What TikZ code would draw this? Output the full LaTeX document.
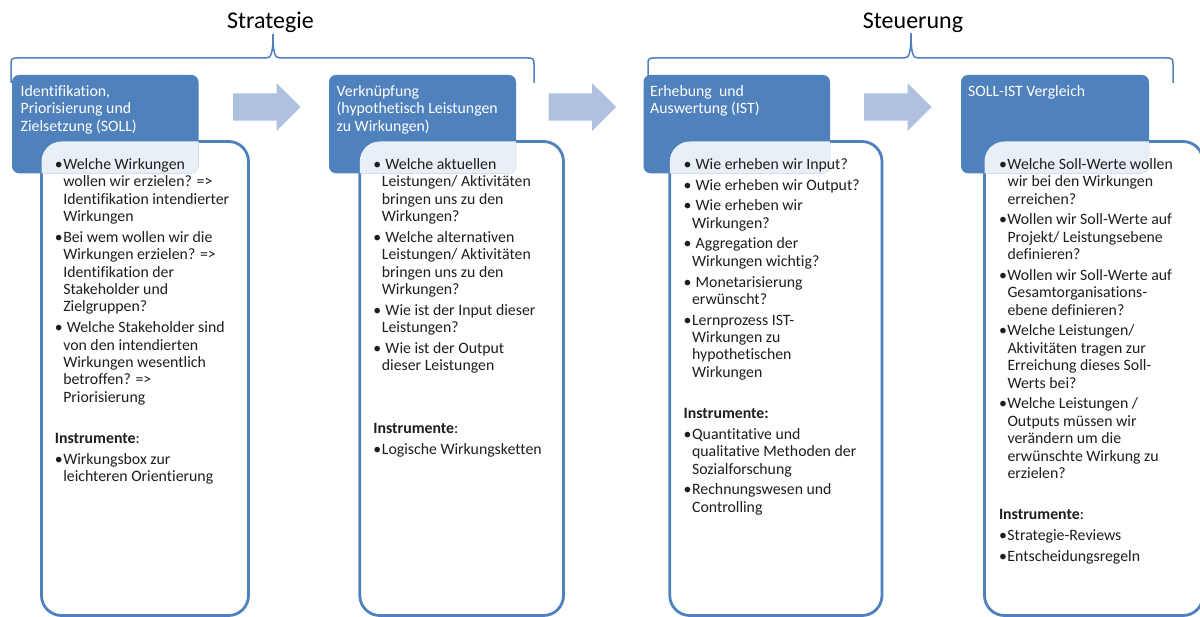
\documentclass[tikz,border=0pt]{standalone}
\usepackage{fontspec}
\setmainfont{Carlito}[Ligatures=NoCommon]
\definecolor{hdrblue}{HTML}{4F81BD}
\definecolor{arrowblue}{HTML}{AEC1DE}
\definecolor{bodyink}{HTML}{1E1E1E}

% hanging bullet paragraph
\newlength\bulhang
\setlength\bulhang{8.5pt}
\newcommand\bitem[1]{\par\hangindent=\bulhang\hangafter=1\noindent\makebox[\bulhang][l]{•}#1\par}
\newcommand\instr[2]{\par\vspace{#1}\noindent\textbf{Instrumente}#2\par}
\newcommand\colbox[1]{\parbox[t]{240pt}{\setlength\parskip{3.3pt}\setlength\parindent{0pt}\hyphenpenalty=10000 #1}}
\newcommand\hdrbox[1]{\parbox[t]{180pt}{\setlength\parindent{0pt}#1}}

\begin{document}
\begin{tikzpicture}[x=1pt,y=-1pt,
  grouping/.style={draw=hdrblue, line width=1.5pt},
  header/.style={fill=hdrblue, rounded corners=7pt},
  bodyframe/.style={draw=hdrblue, line width=2.8pt, fill=white, rounded corners=20pt},
  blockarrow/.style={fill=arrowblue},
  title/.style={anchor=base, inner sep=0pt, font=\fontsize{24}{28}\selectfont, text=black},
  hdrtext/.style={anchor=base west, inner sep=0pt, text=white, font=\fontsize{15.8}{17.5}\selectfont},
  coltext/.style={anchor=base west, inner sep=0pt, text=bodyink, font=\fontsize{15.8}{17.4}\selectfont}]

\clip (0,0) rectangle (1200,617);
\fill[white] (0,0) rectangle (1200,617);

% curly brackets grouping the phases
\draw[grouping] (11,83) -- (11,64) .. controls (11,59) and (12,58) .. (17,58)
  -- (266,58) .. controls (271,58) and (273,54) .. (273,34)
  .. controls (273,54) and (275,58) .. (280,58)
  -- (528,58) .. controls (533,58) and (534,59) .. (534,64) -- (534,83);
\draw[grouping] (648,83) -- (648,64) .. controls (648,59) and (649,58) .. (654,58)
  -- (904,58) .. controls (909,58) and (911,54) .. (911,33)
  .. controls (911,54) and (913,58) .. (918,58)
  -- (1167,58) .. controls (1172,58) and (1173,59) .. (1173,64) -- (1173,83);

\node[title] (tstrat) at (270.5,29) {Strategie};
\node[title] (tsteu) at (913,29) {Steuerung};

% block arrows between the phases
\foreach \dx in {0,315.5,631} {
  \fill[blockarrow] (233+\dx,93.3) -- (276.7+\dx,93.3) -- (276.7+\dx,83.3)
    -- (300.7+\dx,107) -- (276.7+\dx,131) -- (276.7+\dx,120.7) -- (233+\dx,120.7) -- cycle;
}

% phase boxes: framed body, blue header, tinted overlap
\foreach \hl/\hr/\bl/\br in {12/198.5/41.5/248.5, 329/516/359.8/563.5, 643.5/830/669.8/882, 961/1149/984.5/1203} {
  \path[bodyframe] (\bl,141.5) rectangle (\br,615.5);
  \path[header] (\hl,75) rectangle (\hr,173.3);
  \begin{scope}
    \clip[rounded corners=7pt] (\hl,75) rectangle (\hr,173.3);
    \fill[white, opacity=0.88, rounded corners=20pt] (\bl,141.5) rectangle (\br,615.5);
  \end{scope}
}

% header texts
\node[hdrtext] (h1) at (20.5,96.5) {\hdrbox{Identifikation,\newline Priorisierung und\newline Zielsetzung (SOLL)}};
\node[hdrtext] (h2) at (336.5,96.5) {\hdrbox{Verknüpfung\newline (hypothetisch Leistungen\newline zu Wirkungen)}};
\node[hdrtext] (h3) at (650,96.5) {\hdrbox{Erhebung\ \ und\newline Auswertung (IST)}};
\node[hdrtext] (h4) at (968,96.5) {\hdrbox{SOLL-IST Vergleich}};

% column texts
\node[coltext] (c1) at (54.6,169.5) {\colbox{%
\bitem{Welche Wirkungen\newline wollen wir erzielen? =>\newline Identifikation intendierter\newline Wirkungen}
\bitem{Bei wem wollen wir die\newline Wirkungen erzielen? =>\newline Identifikation der\newline Stakeholder und\newline Zielgruppen?}
\bitem{\ Welche Stakeholder sind\newline von den intendierten\newline Wirkungen wesentlich\newline betroffen? =>\newline Priorisierung}
\instr{20.7pt}{:}
\bitem{Wirkungsbox zur\newline leichteren Orientierung}}};

\node[coltext] (c2) at (373.2,169.5) {\colbox{%
\bitem{\ Welche aktuellen\newline Leistungen/ Aktivitäten\newline bringen uns zu den\newline Wirkungen?}
\bitem{\ Welche alternativen\newline Leistungen/ Aktivitäten\newline bringen uns zu den\newline Wirkungen?}
\bitem{\ Wie ist der Input dieser\newline Leistungen?}
\bitem{\ Wie ist der Output\newline dieser Leistungen}
\instr{41.9pt}{:}
\bitem{Logische Wirkungsketten}}};

\node[coltext] (c3) at (683.4,169.5) {\colbox{%
\bitem{\ Wie erheben wir Input?}
\bitem{\ Wie erheben wir Output?}
\bitem{\ Wie erheben wir\newline Wirkungen?}
\bitem{\ Aggregation der\newline Wirkungen wichtig?}
\bitem{\ Monetarisierung\newline erwünscht?}
\bitem{Lernprozess IST-\newline Wirkungen zu\newline hypothetischen\newline Wirkungen}
\instr{20.7pt}{\textbf{:}}
\bitem{Quantitative und\newline qualitative Methoden der\newline Sozialforschung}
\bitem{Rechnungswesen und\newline Controlling}}};

\node[coltext] (c4) at (998.8,169.5) {\colbox{%
\bitem{Welche Soll-Werte wollen\newline wir bei den Wirkungen\newline erreichen?}
\bitem{Wollen wir Soll-Werte auf\newline Projekt/ Leistungsebene\newline definieren?}
\bitem{Wollen wir Soll-Werte auf\newline Gesamtorganisations-\newline ebene definieren?}
\bitem{Welche Leistungen/\newline Aktivitäten tragen zur\newline Erreichung dieses Soll-\newline Werts bei?}
\bitem{Welche Leistungen /\newline Outputs müssen wir\newline verändern um die\newline erwünschte Wirkung zu\newline erzielen?}
\instr{20.7pt}{:}
\bitem{Strategie-Reviews}
\bitem{Entscheidungsregeln}}};

\end{tikzpicture}
\end{document}
